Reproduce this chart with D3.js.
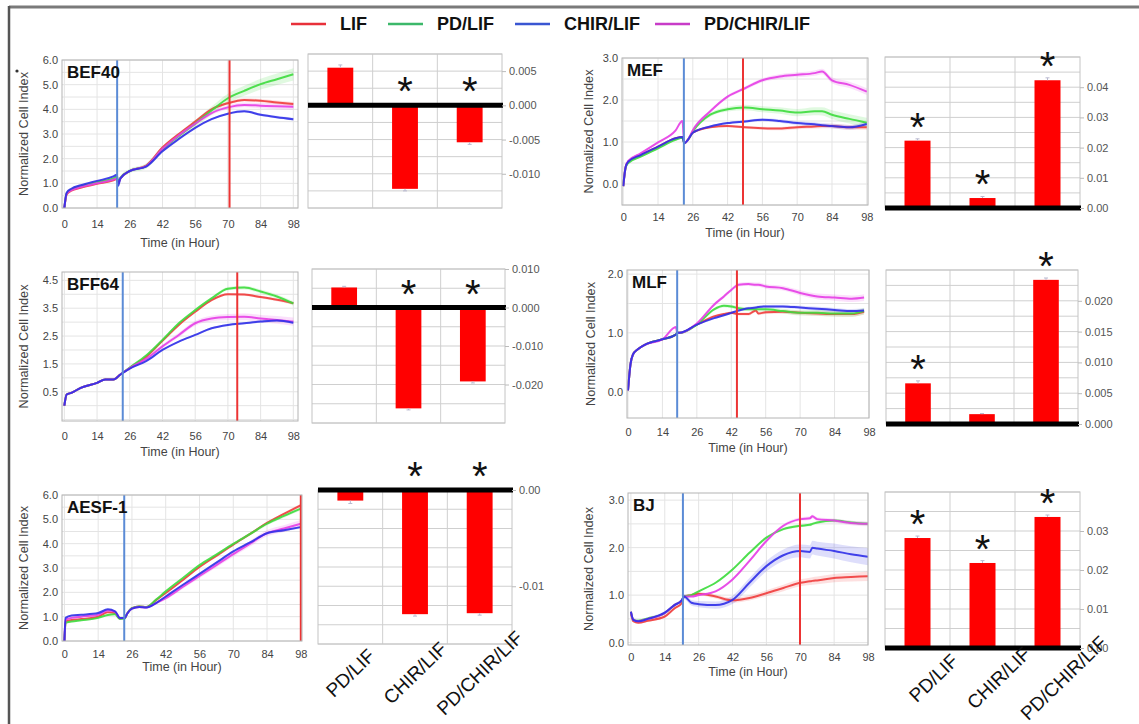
<!DOCTYPE html>
<html><head><meta charset="utf-8">
<script src="https://cdn.jsdelivr.net/npm/d3@7"></script>
<style>
html,body{margin:0;padding:0;background:#fff;}
svg{display:block;font-family:Arial,"Liberation Sans",sans-serif;}
</style></head><body>
<svg id="chart" width="1139" height="724"></svg>
<script>
// ---------- shared labels ----------
const seriesNames = ["LIF", "PD/LIF", "CHIR/LIF", "PD/CHIR/LIF"];
const lineColors = ["#f03c3c", "#3ddc3d", "#2f2fe8", "#e63ee6"];
const legendColors = ["#e8303a", "#3cb86a", "#3a56d2", "#c83cc8"];
const xTickValues = [0, 14, 28, 42, 56, 70, 84, 98];
const xTickLabels = ["0", "14", "26", "42", "56", "70", "84", "98"];
const barCategories = ["PD/LIF", "CHIR/LIF", "PD/CHIR/LIF"];

// ---------- BEF40 ----------
const bef40Hours = [0, 1, 3, 7, 14, 21, 22.5, 23, 24, 28, 35, 42, 49, 56, 63, 70, 77, 84, 91, 98];
const bef40LIF = [0.0, 0.55, 0.7, 0.82, 0.98, 1.12, 1.18, 1.0, 1.2, 1.5, 1.72, 2.45, 3.0, 3.5, 4.0, 4.25, 4.38, 4.35, 4.28, 4.22];
const bef40PD = [0.0, 0.6, 0.75, 0.88, 1.05, 1.2, 1.28, 1.05, 1.22, 1.5, 1.7, 2.38, 2.92, 3.42, 3.95, 4.45, 4.75, 5.02, 5.22, 5.42];
const bef40CHIR = [0.0, 0.62, 0.78, 0.92, 1.1, 1.28, 1.35, 0.9, 1.2, 1.5, 1.68, 2.3, 2.8, 3.25, 3.6, 3.82, 3.92, 3.78, 3.68, 3.6];
const bef40PDCHIR = [0.0, 0.58, 0.72, 0.85, 1.0, 1.15, 1.2, 1.0, 1.2, 1.5, 1.7, 2.4, 2.95, 3.42, 3.85, 4.08, 4.18, 4.15, 4.12, 4.1];
const bef40Spread = [0.08, 0.25, 0.06, 0.12];
const bef40Markers = [22.6, 70.7];
const bef40Bars = [0.0055, -0.0122, -0.0054];
const bef40Err = [0.0004, 0.0003, 0.0003];
const bef40Stars = [false, true, true];

// ---------- BFF64 ----------
const bff64Hours = [0, 1, 3, 7, 14, 17.5, 21, 24, 28, 35, 42, 49, 56, 63, 70, 77, 84, 91, 98];
const bff64LIF = [0.0, 0.4, 0.46, 0.64, 0.82, 0.94, 0.94, 1.12, 1.35, 1.75, 2.33, 2.9, 3.37, 3.79, 4.0, 3.99, 3.9, 3.8, 3.68];
const bff64PD = [0.0, 0.4, 0.46, 0.64, 0.82, 0.94, 0.94, 1.12, 1.37, 1.8, 2.36, 2.96, 3.43, 3.85, 4.2, 4.24, 4.1, 3.92, 3.67];
const bff64CHIR = [0.0, 0.4, 0.46, 0.64, 0.82, 0.94, 0.94, 1.12, 1.33, 1.6, 2.0, 2.3, 2.54, 2.78, 2.9, 2.96, 3.02, 3.06, 2.98];
const bff64PDCHIR = [0.0, 0.4, 0.46, 0.64, 0.82, 0.94, 0.94, 1.12, 1.35, 1.68, 2.13, 2.54, 2.96, 3.13, 3.18, 3.19, 3.13, 3.08, 3.02];
const bff64Spread = [0.05, 0.08, 0.05, 0.15];
const bff64Markers = [25, 74];
const bff64Bars = [0.0052, -0.0262, -0.0192];
const bff64Err = [0.0003, 0.0004, 0.0004];
const bff64Stars = [false, true, true];

// ---------- AESF-1 ----------
const aesfHours = [0, 0.5, 3, 7, 14, 18, 21, 23, 25, 26, 28, 31, 34, 38, 42, 49, 56, 63, 70, 77, 84, 91, 98];
const aesfLIF = [0.0, 0.8, 0.86, 0.9, 1.0, 1.18, 1.15, 0.92, 0.95, 1.12, 1.35, 1.42, 1.4, 1.68, 1.97, 2.5, 3.04, 3.5, 3.96, 4.4, 4.85, 5.22, 5.58];
const aesfPD = [0.0, 0.75, 0.8, 0.85, 0.95, 1.07, 1.1, 0.9, 0.93, 1.12, 1.35, 1.42, 1.4, 1.7, 2.04, 2.58, 3.12, 3.55, 3.99, 4.4, 4.82, 5.14, 5.44];
const aesfCHIR = [0.0, 0.95, 1.05, 1.08, 1.15, 1.3, 1.22, 0.95, 0.95, 1.12, 1.33, 1.4, 1.38, 1.56, 1.83, 2.3, 2.76, 3.22, 3.68, 4.05, 4.43, 4.55, 4.68];
const aesfPDCHIR = [0.0, 0.88, 0.95, 1.0, 1.08, 1.25, 1.2, 0.95, 0.95, 1.12, 1.33, 1.4, 1.38, 1.56, 1.76, 2.22, 2.67, 3.12, 3.57, 4.0, 4.43, 4.62, 4.82];
const aesfSpread = [0.06, 0.08, 0.06, 0.15];
const aesfMarkers = [24.8, 98];
const aesfBars = [-0.0011, -0.0129, -0.0128];
const aesfErr = [0.0003, 0.0002, 0.0002];
const aesfStars = [false, true, true];

// ---------- MEF ----------
const mefHours = [0, 1, 2, 7, 14, 21, 23.8, 24.6, 26, 28, 35, 42, 49, 56, 63, 70, 77, 80, 84, 91, 98];
const mefLIF = [-0.05, 0.41, 0.53, 0.69, 0.89, 1.09, 1.12, 0.97, 1.05, 1.22, 1.35, 1.38, 1.35, 1.33, 1.32, 1.35, 1.37, 1.38, 1.38, 1.35, 1.35];
const mefPD = [-0.05, 0.4, 0.5, 0.65, 0.85, 1.05, 1.1, 0.97, 1.05, 1.25, 1.65, 1.78, 1.82, 1.78, 1.75, 1.7, 1.73, 1.73, 1.65, 1.55, 1.46];
const mefCHIR = [-0.05, 0.41, 0.53, 0.69, 0.89, 1.09, 1.12, 0.97, 1.05, 1.22, 1.37, 1.45, 1.49, 1.53, 1.5, 1.45, 1.42, 1.4, 1.38, 1.35, 1.43];
const mefPDCHIR = [-0.05, 0.42, 0.55, 0.73, 0.99, 1.27, 1.5, 0.97, 1.05, 1.28, 1.73, 2.08, 2.28, 2.47, 2.56, 2.6, 2.64, 2.68, 2.47, 2.36, 2.2];
const mefSpread = [0.06, 0.12, 0.06, 0.08];
const mefMarkers = [24.4, 48.2];
const mefBars = [0.0223, 0.0033, 0.0423];
const mefErr = [0.0006, 0.0005, 0.0008];
const mefStars = [true, true, true];

// ---------- MLF ----------
const mlfHours = [0, 1, 2, 4, 7, 14, 19.5, 20, 21, 28, 35, 39, 42, 45, 49, 52, 53, 56, 63, 70, 77, 84, 91, 96];
const mlfLIF = [0.02, 0.46, 0.63, 0.72, 0.8, 0.89, 0.97, 1.0, 1.0, 1.14, 1.28, 1.32, 1.34, 1.32, 1.32, 1.38, 1.33, 1.35, 1.36, 1.34, 1.33, 1.32, 1.32, 1.36];
const mlfPD = [0.02, 0.46, 0.63, 0.72, 0.8, 0.89, 0.97, 1.0, 1.0, 1.14, 1.4, 1.46, 1.45, 1.42, 1.4, 1.4, 1.4, 1.4, 1.37, 1.34, 1.34, 1.33, 1.33, 1.37];
const mlfCHIR = [0.02, 0.46, 0.63, 0.72, 0.8, 0.89, 0.97, 1.0, 1.0, 1.14, 1.25, 1.3, 1.34, 1.38, 1.42, 1.43, 1.44, 1.45, 1.45, 1.43, 1.41, 1.39, 1.37, 1.38];
const mlfPDCHIR = [0.02, 0.46, 0.63, 0.72, 0.8, 0.89, 1.1, 1.0, 1.0, 1.16, 1.48, 1.62, 1.73, 1.82, 1.83, 1.82, 1.82, 1.79, 1.76, 1.68, 1.62, 1.6, 1.58, 1.6];
const mlfSpread = [0.05, 0.06, 0.04, 0.06];
const mlfMarkers = [20, 44.3];
const mlfBars = [0.0066, 0.0016, 0.0234];
const mlfErr = [0.0004, 0.0001, 0.0003];
const mlfStars = [true, false, true];

// ---------- BJ ----------
const bjHours = [0, 1, 3, 7, 14, 18, 21, 22, 25, 28, 35, 42, 49, 56, 63, 70, 74, 75, 77, 84, 91, 98];
const bjLIF = [0.62, 0.45, 0.42, 0.46, 0.55, 0.72, 0.83, 0.97, 1.0, 1.03, 0.97, 0.89, 0.94, 1.04, 1.15, 1.26, 1.29, 1.3, 1.31, 1.36, 1.38, 1.4];
const bjPD = [0.65, 0.48, 0.46, 0.51, 0.62, 0.79, 0.89, 0.97, 1.0, 1.08, 1.26, 1.54, 1.89, 2.21, 2.39, 2.46, 2.48, 2.5, 2.53, 2.57, 2.53, 2.5];
const bjCHIR = [0.65, 0.48, 0.45, 0.5, 0.63, 0.79, 0.89, 0.97, 0.84, 0.81, 0.79, 0.9, 1.26, 1.61, 1.84, 1.93, 1.91, 2.0, 1.98, 1.93, 1.86, 1.81];
const bjPDCHIR = [0.65, 0.48, 0.45, 0.5, 0.62, 0.79, 0.89, 0.97, 0.97, 1.0, 1.08, 1.33, 1.72, 2.14, 2.46, 2.6, 2.62, 2.66, 2.6, 2.57, 2.52, 2.5];
const bjSpread = [0.1, 0.04, 0.18, 0.05];
const bjMarkers = [21.5, 69.9];
const bjBars = [0.0282, 0.0218, 0.0336];
const bjErr = [0.0005, 0.0006, 0.0005];
const bjStars = [true, true, true];

// ---------- drawing ----------
const svg = d3.select("#chart");
const defs = svg.append("defs");

// outer frame
svg.append("line").attr("x1", 9).attr("x2", 1139).attr("y1", 7).attr("y2", 7)
  .attr("stroke", "#7a7a7a").attr("stroke-width", 3);
svg.append("line").attr("x1", 9).attr("x2", 9).attr("y1", 6).attr("y2", 724)
  .attr("stroke", "#555").attr("stroke-width", 2.5);
svg.append("circle").attr("cx", 17).attr("cy", 71).attr("r", 1.6).attr("fill", "#333");

// legend
const legendX = [291, 388, 515, 655];
seriesNames.forEach((n, i) => {
  svg.append("line").attr("x1", legendX[i]).attr("x2", legendX[i] + 35)
    .attr("y1", 24).attr("y2", 24).attr("stroke", legendColors[i]).attr("stroke-width", 2.5);
  svg.append("text").attr("x", legendX[i] + 49).attr("y", 30)
    .attr("font-size", 18).attr("font-weight", "bold").attr("fill", "#111").text(n);
});

function linePanel(p) {
  const x = d3.scaleLinear().domain(p.xDomain).range([p.left, p.right]);
  const y = d3.scaleLinear().domain(p.yDomain).range([p.bottom, p.top]);
  const g = svg.append("g");
  const clipId = "clip-" + p.id;
  defs.append("clipPath").attr("id", clipId).append("rect")
    .attr("x", p.left).attr("y", p.top).attr("width", p.right - p.left).attr("height", p.bottom - p.top);

  g.append("rect").attr("x", p.left).attr("y", p.top).attr("width", p.right - p.left)
    .attr("height", p.bottom - p.top).attr("fill", "#fff");

  // grid
  const grid = g.append("g").attr("stroke", "#e4e4e4").attr("stroke-width", 1);
  xTickValues.forEach(t => grid.append("line").attr("x1", x(t)).attr("x2", x(t))
    .attr("y1", p.top).attr("y2", p.bottom));
  const g0 = Math.ceil(p.yDomain[0] * 2), g1 = Math.floor(p.yDomain[1] * 2);
  for (let k = g0; k <= g1; k++) {
    grid.append("line").attr("x1", p.left).attr("x2", p.right)
      .attr("y1", y(k / 2)).attr("y2", y(k / 2));
  }

  const plot = g.append("g").attr("clip-path", `url(#${clipId})`);
  const blueT = p.markers[0];
  const ramp = t => t < blueT ? 0.2 : 0.3 + 0.7 * (t - blueT) / (98 - blueT);
  const order = [0, 1, 3, 2];
  // bands
  order.forEach(i => {
    const vals = p.series[i];
    const pts = p.hours.map((t, j) => ({t, v: vals[j], s: p.spread[i] * ramp(t)}));
    const area = d3.area().x(d => x(d.t)).y0(d => y(d.v - d.s)).y1(d => y(d.v + d.s))
      .curve(d3.curveMonotoneX);
    plot.append("path").datum(pts).attr("d", area).attr("fill", lineColors[i]).attr("fill-opacity", 0.16);
  });
  // lines
  order.forEach(i => {
    const vals = p.series[i];
    const pts = p.hours.map((t, j) => ({t, v: vals[j]}));
    const line = d3.line().x(d => x(d.t)).y(d => y(d.v)).curve(d3.curveMonotoneX);
    plot.append("path").datum(pts).attr("d", line).attr("fill", "none")
      .attr("stroke", lineColors[i]).attr("stroke-width", 2).attr("stroke-opacity", 0.9);
  });
  // treatment markers
  g.append("line").attr("x1", x(p.markers[0])).attr("x2", x(p.markers[0]))
    .attr("y1", p.top).attr("y2", p.bottom).attr("stroke", "#5b8bd6").attr("stroke-width", 2);
  g.append("line").attr("x1", x(p.markers[1])).attr("x2", x(p.markers[1]))
    .attr("y1", p.top).attr("y2", p.bottom).attr("stroke", "#ec3434").attr("stroke-width", 2);

  g.append("rect").attr("x", p.left).attr("y", p.top).attr("width", p.right - p.left)
    .attr("height", p.bottom - p.top).attr("fill", "none").attr("stroke", "#b4b4b4");

  // axes
  const xa = g.append("g").attr("transform", `translate(0,${p.bottom})`)
    .call(d3.axisBottom(x).tickValues(xTickValues).tickFormat((d, i) => xTickLabels[i]).tickSize(0).tickPadding(p.labelPad));
  xa.select(".domain").remove();
  xa.selectAll("text").attr("font-size", 11).attr("fill", "#444").attr("font-family", "Arial");
  const ya = g.append("g").attr("transform", `translate(${p.left},0)`)
    .call(d3.axisLeft(y).tickValues(p.yTicks).tickFormat(d3.format(".1f")).tickSize(0).tickPadding(4));
  ya.select(".domain").remove();
  ya.selectAll("text").attr("font-size", 11).attr("fill", "#444").attr("font-family", "Arial");

  g.append("text").attr("x", (p.left + p.right) / 2).attr("y", p.bottom + p.titleDy)
    .attr("text-anchor", "middle").attr("font-size", 12.5).attr("fill", "#444").text("Time (in Hour)");
  g.append("text").attr("transform", `translate(${p.ylabelX},${(p.top + p.bottom) / 2}) rotate(-90)`)
    .attr("text-anchor", "middle").attr("font-size", 12).attr("textLength", 124)
    .attr("lengthAdjust", "spacingAndGlyphs").attr("fill", "#444").text("Normalized Cell Index");
  g.append("text").attr("x", p.left + 5).attr("y", p.top + 18).attr("font-size", 17)
    .attr("font-weight", "bold").attr("fill", "#111").text(p.name);
}

function fixedFmt(dg) {
  return v => (Math.abs(v) < 1e-12 ? 0 : v).toFixed(dg);
}

function barPanel(p) {
  const x = d3.scaleBand().domain(barCategories).range([p.left, p.right]);
  const y = d3.scaleLinear().domain(p.yDomain).range([p.bottom, p.top]);
  const g = svg.append("g");
  g.append("rect").attr("x", p.left).attr("y", p.top).attr("width", p.right - p.left)
    .attr("height", p.bottom - p.top).attr("fill", "#fff");
  const grid = g.append("g").attr("stroke", "#cfcfcf").attr("stroke-width", 1);
  const n = Math.round((p.yDomain[1] - p.yDomain[0]) / p.gridStep);
  for (let k = 0; k <= n; k++) {
    const v = p.yDomain[0] + k * p.gridStep;
    grid.append("line").attr("x1", p.left).attr("x2", p.right).attr("y1", y(v)).attr("y2", y(v));
  }
  barCategories.forEach((c, i) => {
    if (i > 0) grid.append("line").attr("x1", x(c)).attr("x2", x(c)).attr("y1", p.top).attr("y2", p.bottom);
  });
  g.append("rect").attr("x", p.left).attr("y", p.top).attr("width", p.right - p.left)
    .attr("height", p.bottom - p.top).attr("fill", "none").attr("stroke", "#c4c4c4");

  const bw = x.bandwidth() * 0.4;
  barCategories.forEach((c, i) => {
    const v = p.values[i];
    const cx = x(c) + x.bandwidth() / 2;
    g.append("rect").attr("x", cx - bw / 2).attr("width", bw)
      .attr("y", y(Math.max(v, 0))).attr("height", Math.abs(y(v) - y(0)))
      .attr("fill", "#ff0000");
    const e = p.errors[i];
    const ye = v >= 0 ? y(v + e) : y(v - e);
    g.append("line").attr("x1", cx).attr("x2", cx).attr("y1", y(v)).attr("y2", ye)
      .attr("stroke", "#b9b9d0").attr("stroke-width", 1);
    g.append("line").attr("x1", cx - 2).attr("x2", cx + 2).attr("y1", ye).attr("y2", ye)
      .attr("stroke", "#b9b9d0").attr("stroke-width", 1);
    if (p.stars[i]) {
      const top = y(Math.max(v, 0)) - 23;
      g.append("text").attr("x", cx).attr("y", top + 23).attr("text-anchor", "middle")
        .attr("font-size", 40).attr("fill", "#111").text("*");
    }
  });
  g.append("line").attr("x1", p.left).attr("x2", p.right + 1).attr("y1", y(0)).attr("y2", y(0))
    .attr("stroke", "#000").attr("stroke-width", 5);

  const ra = g.append("g").attr("transform", `translate(${p.right},0)`)
    .call(d3.axisRight(y).tickValues(p.ticks).tickFormat(fixedFmt(p.digits)).tickSize(4).tickPadding(3));
  ra.select(".domain").remove();
  ra.selectAll("line").attr("stroke", "#bbb");
  ra.selectAll("text").attr("font-size", 11).attr("fill", "#555").attr("font-family", "Arial");

  if (p.catY) {
    barCategories.forEach(c => {
      const cx = x(c) + x.bandwidth() / 2 + p.catDx;
      svg.append("text").attr("transform", `translate(${cx},${p.catY}) rotate(-44)`)
        .attr("text-anchor", "middle").attr("dy", "0.35em").attr("font-size", 19)
        .attr("fill", "#111").text(c);
    });
  }
}

// line panels
linePanel({id: "bef40", name: "BEF40", left: 62, right: 298, top: 60, bottom: 208, xDomain: [-1, 100],
  yDomain: [0, 6], yTicks: [0, 1, 2, 3, 4, 5, 6], ylabelX: 28, labelPad: 12, titleDy: 39, hours: bef40Hours,
  series: [bef40LIF, bef40PD, bef40CHIR, bef40PDCHIR], spread: bef40Spread, markers: bef40Markers});
linePanel({id: "bff64", name: "BFF64", left: 62, right: 298, top: 272, bottom: 421, xDomain: [-1, 100],
  yDomain: [-0.55, 4.8], yTicks: [0.5, 1.5, 2.5, 3.5, 4.5], ylabelX: 28, labelPad: 11, titleDy: 35, hours: bff64Hours,
  series: [bff64LIF, bff64PD, bff64CHIR, bff64PDCHIR], spread: bff64Spread, markers: bff64Markers});
linePanel({id: "aesf", name: "AESF-1", left: 62, right: 302, top: 495, bottom: 641, xDomain: [-1, 98.5],
  yDomain: [0, 6], yTicks: [0, 1, 2, 3, 4, 5, 6], ylabelX: 28, labelPad: 9, titleDy: 30, hours: aesfHours,
  series: [aesfLIF, aesfPD, aesfCHIR, aesfPDCHIR], spread: aesfSpread, markers: aesfMarkers});
linePanel({id: "mef", name: "MEF", left: 622, right: 868, top: 58, bottom: 205, xDomain: [-0.5, 98.5],
  yDomain: [-0.5, 3.0], yTicks: [0, 1, 2, 3], ylabelX: 593, labelPad: 8, titleDy: 32, hours: mefHours,
  series: [mefLIF, mefPD, mefCHIR, mefPDCHIR], spread: mefSpread, markers: mefMarkers});
linePanel({id: "mlf", name: "MLF", left: 627, right: 869, top: 270, bottom: 418, xDomain: [-0.4, 98],
  yDomain: [-0.45, 2.07], yTicks: [0, 1, 2], ylabelX: 595, labelPad: 10, titleDy: 34, hours: mlfHours,
  series: [mlfLIF, mlfPD, mlfCHIR, mlfPDCHIR], spread: mlfSpread, markers: mlfMarkers});
linePanel({id: "bj", name: "BJ", left: 628, right: 868, top: 493, bottom: 645, xDomain: [-1.2, 98],
  yDomain: [-0.05, 3.15], yTicks: [0, 1, 2, 3], ylabelX: 593, labelPad: 8, titleDy: 31, hours: bjHours,
  series: [bjLIF, bjPD, bjCHIR, bjPDCHIR], spread: bjSpread, markers: bjMarkers});

// bar panels
barPanel({left: 308, right: 502, top: 54, bottom: 208, yDomain: [-0.015, 0.0075], gridStep: 0.0025,
  ticks: [-0.01, -0.005, 0, 0.005], digits: 3, values: bef40Bars, errors: bef40Err, stars: bef40Stars});
barPanel({left: 312, right: 505, top: 269, bottom: 423, yDomain: [-0.03, 0.01], gridStep: 0.005,
  ticks: [-0.02, -0.01, 0, 0.01], digits: 3, values: bff64Bars, errors: bff64Err, stars: bff64Stars});
barPanel({left: 318, right: 512, top: 490, bottom: 644, yDomain: [-0.016, 0], gridStep: 0.002,
  ticks: [-0.01, 0], digits: 2, values: aesfBars, errors: aesfErr, stars: aesfStars, catY: 673, catDx: 0});
barPanel({left: 885, right: 1080, top: 57, bottom: 208, yDomain: [0, 0.05], gridStep: 0.005,
  ticks: [0, 0.01, 0.02, 0.03, 0.04], digits: 2, values: mefBars, errors: mefErr, stars: mefStars});
barPanel({left: 886, right: 1078, top: 270, bottom: 424, yDomain: [0, 0.025], gridStep: 0.0025,
  ticks: [0, 0.005, 0.01, 0.015, 0.02], digits: 3, values: mlfBars, errors: mlfErr, stars: mlfStars});
barPanel({left: 885, right: 1080, top: 492, bottom: 648, yDomain: [0, 0.04], gridStep: 0.005,
  ticks: [0, 0.01, 0.02, 0.03], digits: 2, values: bjBars, errors: bjErr, stars: bjStars, catY: 678, catDx: 16});
</script></body></html>
